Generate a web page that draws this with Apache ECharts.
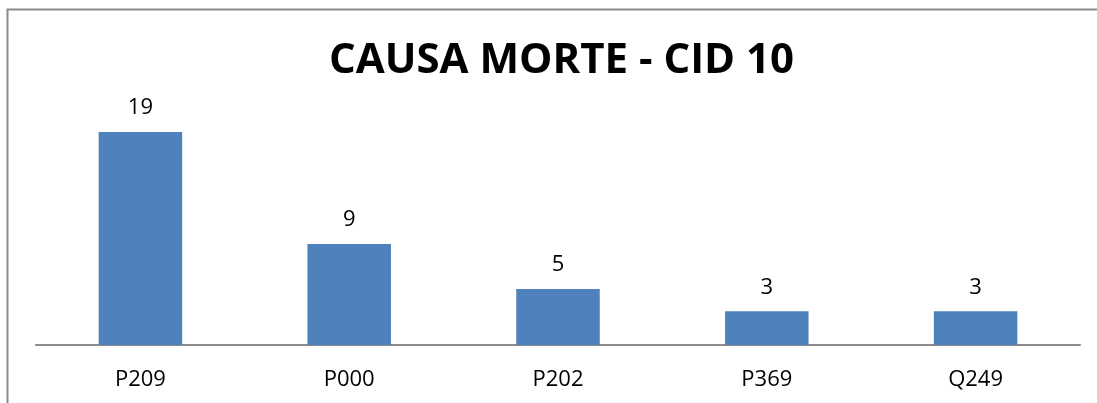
<!DOCTYPE html>
<html><head><meta charset="utf-8">
<script src="https://cdn.jsdelivr.net/npm/echarts@6/dist/echarts.min.js"></script>
<style>html,body{margin:0;padding:0;background:#fff}#c{width:1097px;height:403px}</style>
</head><body><div id="c"></div>
<script>
const categories = ['P209', 'P000', 'P202', 'P369', 'Q249'];
const values = [19, 9, 5, 3, 3];
const titleText = 'CAUSA MORTE - CID 10';

const chart = echarts.init(document.getElementById('c'), null, {renderer: 'canvas'});
chart.setOption({
  animation: false,
  backgroundColor: '#ffffff',
  title: {
    text: titleText, left: 324, top: 35,
    textStyle: {fontFamily: 'Open Sans', fontWeight: 'bold', fontSize: 42, color: '#000'}
  },
  graphic: [{
    type: 'polyline', silent: true,
    shape: {points: [[7.5, 410], [7.5, 9.5], [1110, 9.5]]},
    style: {stroke: '#8a8a8a', lineWidth: 2, fill: null}
  }],
  grid: {left: 36, right: 17, top: 132, bottom: 58, containLabel: false},
  xAxis: {
    type: 'category', data: categories,
    axisLine: {lineStyle: {color: '#8c8c8c', width: 2}},
    axisTick: {show: false},
    axisLabel: {margin: 24, fontFamily: 'Open Sans', fontSize: 22, color: '#000'}
  },
  yAxis: {type: 'value', min: 0, max: 19, show: false, splitLine: {show: false}},
  series: [{
    type: 'bar', data: values, barWidth: '40%',
    itemStyle: {color: '#4f81bd'},
    label: {show: true, position: 'top', distance: 13, fontFamily: 'Open Sans', fontSize: 22, color: '#000'}
  }]
});
</script></body></html>
